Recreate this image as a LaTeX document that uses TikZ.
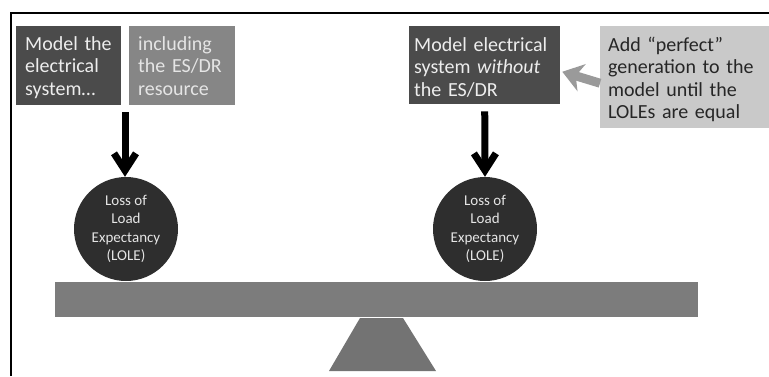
\documentclass[tikz,border=0pt]{standalone}
\usepackage{fontspec}
\setmainfont{Carlito}
\usetikzlibrary{arrows.meta}

\definecolor{boxdark}{HTML}{4B4B4B}
\definecolor{boxmid}{HTML}{868686}
\definecolor{boxlight}{HTML}{C9C9C9}
\definecolor{ball}{HTML}{2E2E2E}
\definecolor{beam}{HTML}{7C7C7C}
\definecolor{pivot}{HTML}{737373}
\definecolor{hint}{HTML}{9A9A9A}

\begin{document}
\begin{tikzpicture}[
        x=1pt, y=-1pt,
        box/.style={
            anchor=north west,
            inner xsep=9pt,
            inner ysep=0pt,
            align=left,
            font=\fontsize{20}{22.5}\selectfont
        },
        darkbox/.style={box, fill=boxdark, text=white!93!black},
        midbox/.style={box, fill=boxmid, text=white!90!black},
        lightbox/.style={box, fill=boxlight, text=black!85, inner xsep=8pt},
        lole/.style={
            circle,
            fill=ball,
            text=white!90!black,
            minimum size=104pt,
            inner sep=0pt,
            align=center,
            font=\fontsize{15}{18.5}\selectfont
        },
        downarrow/.style={
            line width=7pt,
            -{Straight Barb[length=17pt,width=22pt]}
        },
        sidearrow/.style={
            draw=hint,
            line width=9pt,
            -{Stealth[length=20pt,width=28pt,inset=6pt]}
        }
    ]
    \useasboundingbox (0,0) rectangle (769,376);

    % frame
    \draw[line width=2pt] (11,376) -- (11,13) -- (769,13);

    % top boxes
    \node[darkbox, text width=87pt, text height=24pt, text depth=55pt] (model) at (16,26)
        {Model the\\electrical\\system\dots};
    \node[midbox, text width=88pt, text height=24pt, text depth=55pt] (incl) at (129,26)
        {including\\the ES/DR\\resource};
    \node[darkbox, inner xsep=5pt, text width=141pt, text height=25pt, text depth=53pt] (without) at (409,26)
        {Model electrical\\system \textit{without}\\the ES/DR};
    \node[lightbox, text width=153pt, text height=25pt, text depth=77pt] (perfect) at (600,26)
        {Add “perfect”\\generation to the\\model until the\\LOLEs are equal};

    % loads on the scale
    \node[lole] (lole1) at (126,229) {Loss of\\Load\\Expectancy\\(LOLE)};
    \node[lole] (lole2) at (485,229) {Loss of\\Load\\Expectancy\\(LOLE)};

    % arrows
    \coordinate (split) at (125,112);
    \draw[downarrow] (split) -- (split |- lole1.north);
    \draw[downarrow, shorten <=7pt] (without.south) -- (lole2.north);
    \draw[sidearrow, shorten >=2pt] ([yshift=-6pt]perfect.west) -- ([yshift=-6pt]without.east);

    % balance
    \fill[beam] (55,282) rectangle (698,317);
    \fill[pivot] (360,318) -- (403,318) -- (436,371) -- (329,371) -- cycle;
\end{tikzpicture}
\end{document}
